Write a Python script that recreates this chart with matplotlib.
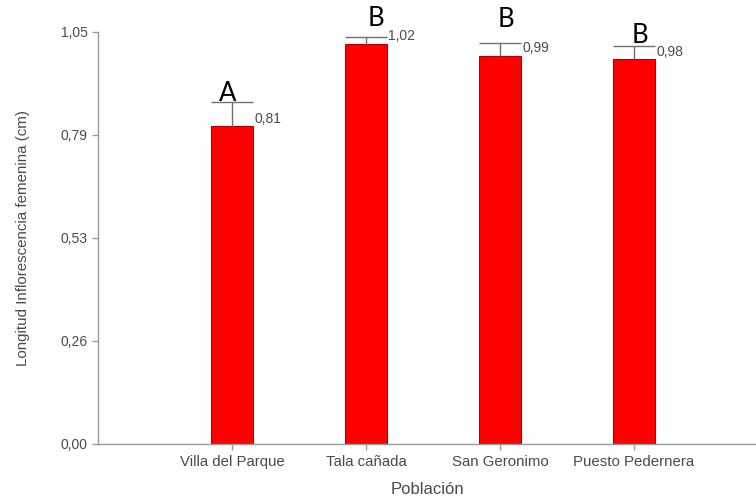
"""Bar chart of mean female inflorescence length per population, with upper error bars
and significance letters above each bar."""

import matplotlib

matplotlib.use("Agg")
import matplotlib.pyplot as plt  # noqa: E402
import numpy as np  # noqa: E402

populations = ["Villa del Parque", "Tala cañada", "San Geronimo", "Puesto Pedernera"]
mean_length = [0.81, 1.02, 0.99, 0.98]
upper_error = [0.062, 0.017, 0.032, 0.034]
group_letters = ["A", "B", "B", "B"]

y_ticks = [0.0, 0.2625, 0.525, 0.7875, 1.05]
y_tick_labels = ["0,00", "0,26", "0,53", "0,79", "1,05"]

# Letters were hand-placed over the caps; nudge each one (points).
letter_nudge = [(-3, 0.5), (7, 8), (4.5, 11.5), (4.5, 2)]

plt.rcParams["font.family"] = ["Liberation Sans", "DejaVu Sans"]

GREY_TEXT = "#4a4a4a"
GREY_LINE = "#9a9a9a"
BAR_WIDTH = 0.31

fig = plt.figure(figsize=(7.56, 5.01), dpi=100)
ax = fig.add_axes([0.1296, 0.1138, 0.8704, 0.8224])

x = np.arange(1, len(populations) + 1)
means = np.asarray(mean_length)
tops = means + np.asarray(upper_error)

ax.bar(x, means, width=BAR_WIDTH, color="#ff0000", edgecolor="#b00000",
       linewidth=0.8, zorder=2)

# Upper-only error bars: stem from the bar top, cap as wide as the bar.
ax.vlines(x, means, tops, color="#707070", linewidth=1.0, zorder=3)
ax.hlines(tops, x - BAR_WIDTH / 2, x + BAR_WIDTH / 2, color="#707070",
          linewidth=1.0, zorder=3)

for xi, m in zip(x, mean_length):
    ax.annotate(f"{m:.2f}".replace(".", ","), (xi + BAR_WIDTH / 2, m),
                xytext=(1, 5.5), textcoords="offset points", ha="left", va="center",
                fontsize=10, color=GREY_TEXT)

for xi, top, letter, (dx, dy) in zip(x, tops, group_letters, letter_nudge):
    ax.annotate(letter, (xi, top), xytext=(dx, dy), textcoords="offset points",
                ha="center", va="baseline", fontsize=18.5, color="black",
                family=["Lato", "DejaVu Sans"])

ax.set_xlim(0, 4.91)
ax.set_ylim(0, 1.05)
ax.set_xticks(x)
ax.set_xticklabels(populations, fontsize=10.8)
ax.set_yticks(y_ticks)
ax.set_yticklabels(y_tick_labels, fontsize=10)

ax.set_xlabel("Población", fontsize=12, color=GREY_TEXT, labelpad=9)
ax.set_ylabel("Longitud Inflorescencia femenina (cm)", fontsize=10.9,
              color=GREY_TEXT, labelpad=22)

for side in ("top", "right"):
    ax.spines[side].set_visible(False)
for side in ("left", "bottom"):
    ax.spines[side].set_color(GREY_LINE)
    ax.spines[side].set_linewidth(1.0)
ax.tick_params(colors=GREY_LINE, labelcolor=GREY_TEXT, length=4, width=1.0)
ax.tick_params(axis="x", pad=4)

fig.savefig("out.png", dpi=100)
